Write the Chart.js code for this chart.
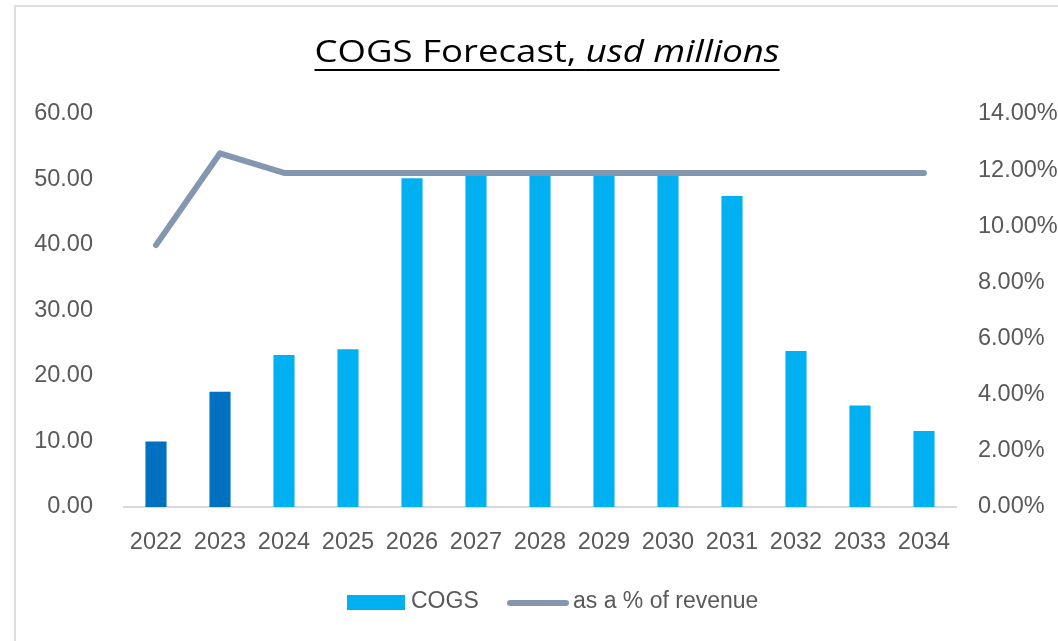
<!DOCTYPE html>
<html>
<head>
<meta charset="utf-8">
<script src="https://cdn.jsdelivr.net/npm/chart.js@4.4.1/dist/chart.umd.min.js"></script>
<style>
  html, body { margin: 0; padding: 0; background: #fff; }
  #wrap { position: relative; width: 1058px; height: 641px; overflow: hidden; }
  #frame {
    position: absolute; left: 14px; top: 5px; width: 1200px; height: 800px;
    border-left: 2px solid #dedede; border-top: 2px solid #dedede;
  }
  #chart { position: absolute; left: 0; top: 0; }
  #title {
    position: absolute; left: 0; top: 35px; width: 1094px; text-align: center;
    font-family: "Open Sans", sans-serif; font-size: 31px; line-height: 31px; color: #000;
  }
  #title span {
    display: inline-block; transform: scaleX(1.18); transform-origin: center;
    text-decoration: underline; text-decoration-thickness: 2px; text-underline-offset: 7px;
  }
  .legend-text {
    position: absolute; top: 589px; font-family: "Liberation Sans", Arial, sans-serif;
    font-size: 23px; line-height: 23px; color: #595959; white-space: nowrap;
  }
</style>
</head>
<body>
<div id="wrap">
  <div id="frame"></div>
  <canvas id="chart" width="1058" height="641"></canvas>
  <div id="title"><span>COGS Forecast, <i>usd millions</i></span></div>
  <div id="legend"></div>
</div>
<script>
const years = ['2022', '2023', '2024', '2025', '2026', '2027', '2028', '2029', '2030', '2031', '2032', '2033', '2034'];
const cogs = [10.0, 17.6, 23.2, 24.1, 50.2, 50.6, 50.6, 50.6, 50.6, 47.5, 23.8, 15.5, 11.6];
const pctOfRevenue = [0.0933, 0.126, 0.119, 0.119, 0.119, 0.119, 0.119, 0.119, 0.119, 0.119, 0.119, 0.119, 0.119];
const actualYears = ['2022', '2023'];
const leftTicks = [0, 10, 20, 30, 40, 50, 60];
const rightTicks = [0, 0.02, 0.04, 0.06, 0.08, 0.10, 0.12, 0.14];

const ACTUAL = '#0070C0';
const FORECAST = '#00B0F0';
const LINE = '#8497B0';
const TEXT = '#595959';
const tickFont = { family: '"Liberation Sans", Arial, sans-serif', size: 23.5 };

const barColors = years.map(y => actualYears.includes(y) ? ACTUAL : FORECAST);

const chart = new Chart(document.getElementById('chart'), {
  type: 'bar',
  data: {
    labels: years,
    datasets: [
      {
        type: 'line',
        label: 'as a % of revenue',
        data: pctOfRevenue,
        yAxisID: 'y1',
        borderColor: LINE,
        backgroundColor: LINE,
        borderWidth: 6,
        borderCapStyle: 'round',
        borderJoinStyle: 'round',
        pointRadius: 0,
        tension: 0,
        order: 0
      },
      {
        label: 'COGS',
        data: cogs,
        yAxisID: 'y',
        backgroundColor: barColors,
        barPercentage: 0.33,
        categoryPercentage: 1,
        order: 1
      }
    ]
  },
  options: {
    responsive: false,
    animation: false,
    layout: { padding: { top: 114, bottom: 84, left: 0, right: 0 } },
    plugins: {
      legend: { display: false },
      tooltip: { enabled: false }
    },
    scales: {
      x: {
        grid: { display: false, drawTicks: false },
        border: { color: '#d9d9d9', width: 2 },
        ticks: { color: TEXT, font: tickFont, padding: 21, maxRotation: 0 },
        afterFit: s => { s.height = 50; }
      },
      y: {
        position: 'left',
        min: 0,
        max: 60,
        afterBuildTicks: s => { s.ticks = leftTicks.map(v => ({ value: v })); },
        grid: { display: false, drawTicks: false },
        border: { display: false },
        ticks: { color: TEXT, font: tickFont, padding: 31, callback: v => v.toFixed(2) },
        afterFit: s => { s.width = 124; }
      },
      y1: {
        position: 'right',
        min: 0,
        max: 0.14,
        afterBuildTicks: s => { s.ticks = rightTicks.map(v => ({ value: v })); },
        grid: { display: false, drawTicks: false },
        border: { display: false },
        ticks: { color: TEXT, font: tickFont, padding: 22, callback: v => (v * 100).toFixed(2) + '%' },
        afterFit: s => { s.width = 102; }
      }
    }
  }
});

// legend built from the chart's datasets
const legend = document.getElementById('legend');
const bars = chart.data.datasets[1];
const line = chart.data.datasets[0];
legend.innerHTML =
  '<div style="position:absolute;left:347px;top:595px;width:58px;height:15px;background:' + FORECAST + '"></div>' +
  '<div class="legend-text" style="left:411px">' + bars.label + '</div>' +
  '<div style="position:absolute;left:507px;top:600px;width:62px;height:6px;border-radius:3px;background:' + line.borderColor + '"></div>' +
  '<div class="legend-text" style="left:573px">' + line.label + '</div>';
</script>
</body>
</html>
